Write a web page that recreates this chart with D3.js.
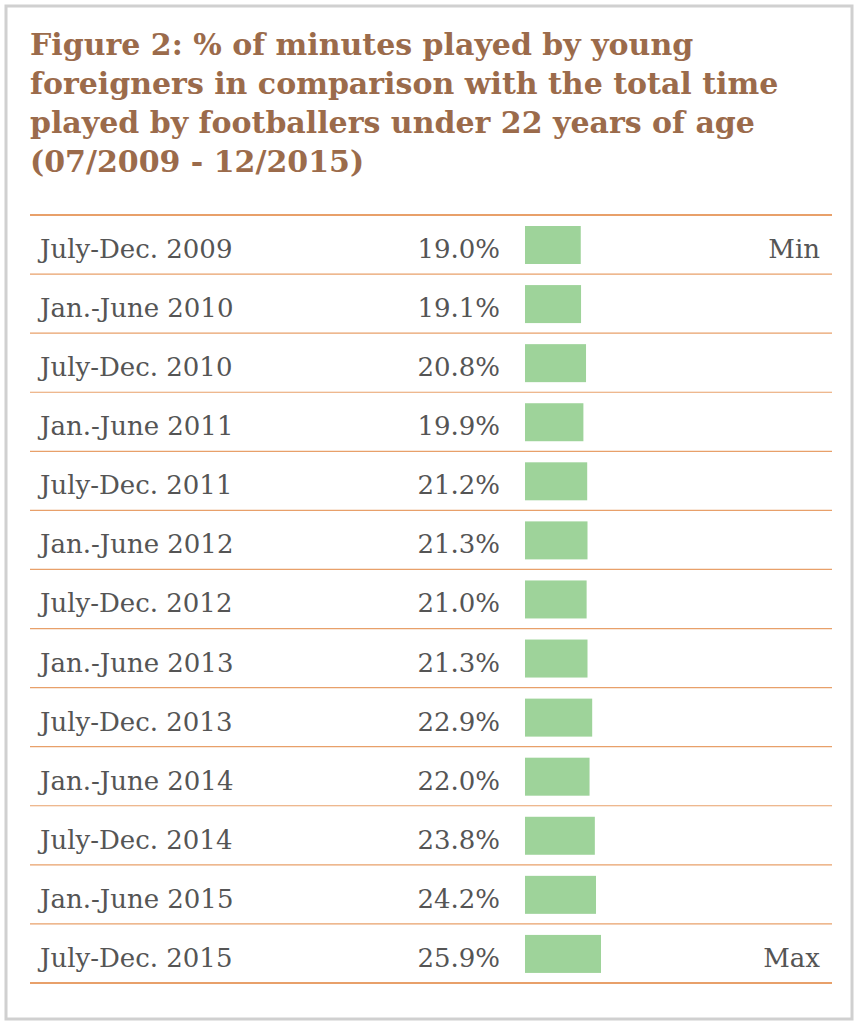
<!DOCTYPE html>
<html><head><meta charset="utf-8">
<script src="https://cdn.jsdelivr.net/npm/d3@7"></script>
<style>body{margin:0;background:#fff}</style>
</head><body>
<script>
var periods = ["July-Dec. 2009","Jan.-June 2010","July-Dec. 2010","Jan.-June 2011","July-Dec. 2011",
  "Jan.-June 2012","July-Dec. 2012","Jan.-June 2013","July-Dec. 2013","Jan.-June 2014",
  "July-Dec. 2014","Jan.-June 2015","July-Dec. 2015"];
var shares = [19.0,19.1,20.8,19.9,21.2,21.3,21.0,21.3,22.9,22.0,23.8,24.2,25.9];
var notes = ["Min","","","","","","","","","","","","Max"];
var titleLines = ["Figure 2: % of minutes played by young","foreigners in comparison with the total time",
  "played by footballers under 22 years of age","(07/2009 - 12/2015)"];

var svg = d3.select("body").append("svg").attr("width",859).attr("height",1025);
svg.append("rect").attr("x",6).attr("y",6).attr("width",846).attr("height",1013)
  .attr("fill","#fff").attr("stroke","#d0d0d0").attr("stroke-width",3);

svg.selectAll(".title").data(titleLines).enter().append("text")
  .attr("x",30).attr("y",function(d,i){return 55+i*39;})
  .attr("font-family","DejaVu Serif").attr("font-weight","bold").attr("font-size",30)
  .attr("fill","#9b6b4b").text(function(d){return d;});

var y = d3.scaleBand().domain(periods).range([215,983]);
var x = d3.scaleLinear().domain([0,25.9]).range([0,76]);
var font = "DejaVu Serif";

svg.selectAll(".ln").data([215].concat(periods.map(function(p){return y(p)+y.bandwidth();})))
  .enter().append("line").attr("x1",30).attr("x2",832)
  .attr("y1",function(d){return d;}).attr("y2",function(d){return d;})
  .attr("stroke","#e8a06a").attr("stroke-width",function(d,i){return (i==0||i==13)?2:1.2;});

var rows = svg.selectAll(".row").data(periods).enter().append("g")
  .attr("transform",function(d){return "translate(0,"+y(d)+")";});
rows.append("text").attr("x",40).attr("y",43).attr("font-family",font).attr("font-size",26)
  .attr("fill","#555").text(function(d){return d;});
rows.append("text").attr("x",500).attr("y",43).attr("text-anchor","end").attr("font-family",font)
  .attr("font-size",26).attr("fill","#555").text(function(d,i){return shares[i].toFixed(1)+"%";});
rows.append("rect").attr("x",525).attr("y",11).attr("height",38)
  .attr("width",function(d,i){return x(shares[i]);}).attr("fill","#9ed39a");
rows.append("text").attr("x",820).attr("y",43).attr("text-anchor","end").attr("font-family",font)
  .attr("font-size",26).attr("fill","#555").text(function(d,i){return notes[i];});
</script>
</body></html>
